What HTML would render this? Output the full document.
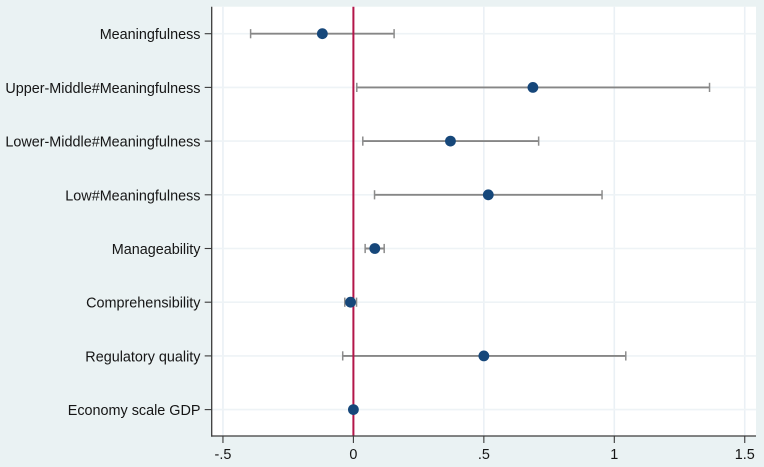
<!DOCTYPE html>
<html>
<head>
<meta charset="utf-8">
<style>
html,body{margin:0;padding:0;background:#eaf2f3;}
body{width:764px;height:467px;overflow:hidden;}
svg{display:block;}
text{font-family:"Liberation Sans",Arial,sans-serif;fill:#141414;}
</style>
</head>
<body>
<svg id="chart" xmlns="http://www.w3.org/2000/svg" width="764" height="467" viewBox="0 0 764 467">
<defs><filter id="soft" x="-5%" y="-5%" width="110%" height="110%"><feGaussianBlur stdDeviation="0.35"/></filter></defs>
<g id="root" filter="url(#soft)"></g>
</svg>
<script>
const categories = ["Meaningfulness","Upper-Middle#Meaningfulness","Lower-Middle#Meaningfulness","Low#Meaningfulness","Manageability","Comprehensibility","Regulatory quality","Economy scale GDP"];
const estimates = [-0.119,0.688,0.372,0.517,0.082,-0.011,0.5,0];
const lowerBounds = [-0.394,0.013,0.036,0.081,0.045,-0.033,-0.041,-0.001];
const upperBounds = [0.156,1.365,0.71,0.953,0.118,0.012,1.044,0.001];
const xTicks = [-0.5,0,0.5,1,1.5];
const xTickLabels = ["-.5","0",".5","1","1.5"];
const referenceValue = 0;

const plotLeft = 211.7, plotRight = 756, plotTop = 6.7, plotBottom = 436;
function xScale(v){ return 353.4 + v * 260.9; }
function yScale(i){ return 33.7 + i * 53.7; }

const root = document.getElementById('root');
const NS = 'http://www.w3.org/2000/svg';
function make(tag, attrs, parent){
  const el = document.createElementNS(NS, tag);
  for (const k in attrs) el.setAttribute(k, attrs[k]);
  (parent || root).appendChild(el);
  return el;
}
function line(x1,y1,x2,y2,stroke,width,parent){
  return make('line',{x1:x1,y1:y1,x2:x2,y2:y2,stroke:stroke,'stroke-width':width},parent);
}

const plotBg = make('rect',{x:plotLeft,y:plotTop,width:plotRight-plotLeft,height:plotBottom-plotTop,fill:'#ffffff'});



xTicks.forEach(function(t,i){
  const g = line(xScale(t),plotTop,xScale(t),plotBottom,'#eaf0f5',1.6);
  
  
});
categories.forEach(function(c,i){
  const g = line(plotLeft,yScale(i),plotRight,yScale(i),'#eef3f6',1.6);
  
  
});

categories.forEach(function(c,i){
  const y = yScale(i);
  const group = make('g',{});
  
  
  const bar = line(xScale(lowerBounds[i]),y,xScale(upperBounds[i]),y,'#868686',1.9,group);
  
  
  const capL = line(xScale(lowerBounds[i]),y-4.6,xScale(lowerBounds[i]),y+4.6,'#8c8c8c',1.5,group);
  
  
  const capH = line(xScale(upperBounds[i]),y-4.6,xScale(upperBounds[i]),y+4.6,'#8c8c8c',1.5,group);
  
  
});

const refLine = line(xScale(referenceValue),plotTop,xScale(referenceValue),plotBottom,'#b3154a',2);



categories.forEach(function(c,i){
  const pt = make('circle',{cx:xScale(estimates[i]),cy:yScale(i),r:5.4,fill:'#17477a'});
  
  
});

const yAxis = line(plotLeft,plotTop,plotLeft,plotBottom+0.7,'#3a3a3a',1.3);


const xAxis = line(plotLeft,plotBottom,plotRight,plotBottom,'#3a3a3a',1.3);



categories.forEach(function(c,i){
  const tick = line(plotLeft-7,yScale(i),plotLeft,yScale(i),'#3a3a3a',1.1);
  
  
  const label = make('text',{x:200.5,y:yScale(i)+5.5,'text-anchor':'end','font-size':'14.4'});
  label.textContent = c;
  
  
});

xTicks.forEach(function(t,i){
  const tick = line(xScale(t),plotBottom,xScale(t),plotBottom+7,'#3a3a3a',1.1);
  
  
  const label = make('text',{x:xScale(t),y:459,'text-anchor':'middle','font-size':'14.4'});
  label.textContent = xTickLabels[i];
  
  
});
</script>
</body>
</html>
